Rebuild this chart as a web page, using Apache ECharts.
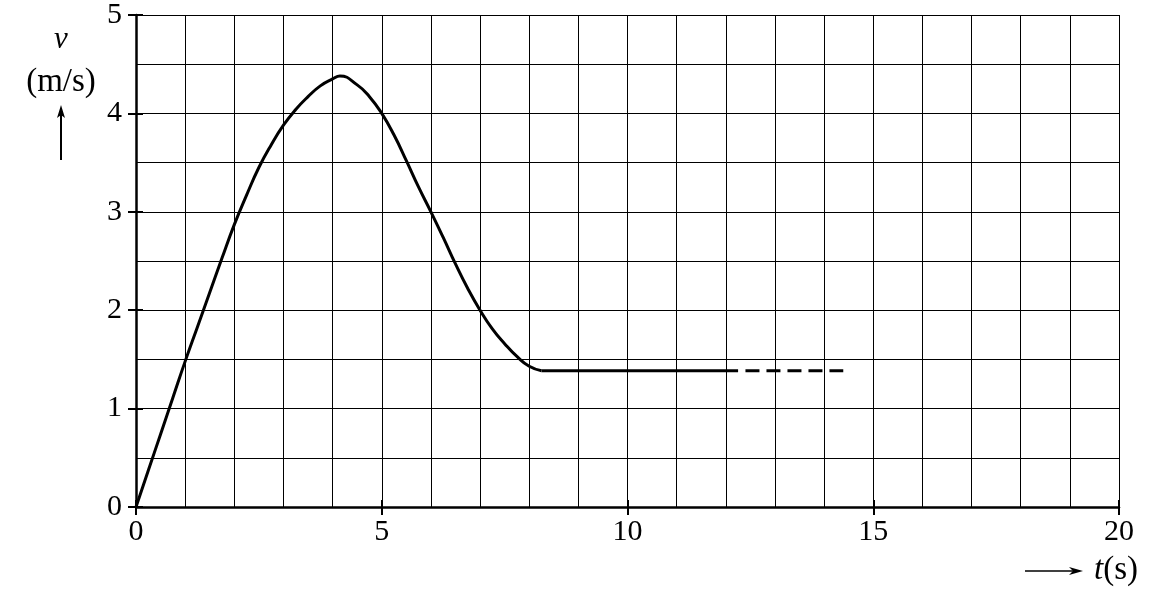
<!DOCTYPE html>
<html>
<head>
<meta charset="utf-8">
<title>v-t</title>
<script src="https://cdn.jsdelivr.net/npm/echarts@6/dist/echarts.min.js"></script>
<style>
  html, body { margin: 0; padding: 0; background: #fff; }
  #vt-chart { width: 1162px; height: 614px; }
</style>
</head>
<body>
<div id="vt-chart"></div>
<script>
// 曲线读数 (t, v), 约每 0.25 s 读一次
var curveT = [0, 0.25, 0.5, 0.75, 1.0, 1.25, 1.5, 1.75, 2.0, 2.25, 2.5, 2.75, 3.0, 3.25, 3.5, 3.75, 4.0, 4.15, 4.5, 4.75,
              5.0, 5.25, 5.5, 5.75, 6.0, 6.25, 6.5, 6.75, 7.0, 7.25, 7.5, 7.75, 8.0, 8.25];
var curveV = [0, 0.37, 0.74, 1.11, 1.48, 1.83, 2.18, 2.53, 2.87, 3.17, 3.45, 3.68, 3.88, 4.04, 4.17, 4.28, 4.35, 4.38, 4.29, 4.17,
              4.0, 3.78, 3.52, 3.25, 3.0, 2.74, 2.47, 2.22, 2.0, 1.81, 1.66, 1.53, 1.43, 1.385];
// 匀速段: 实线 + 虚线
var flatT = [8.25, 12.25];
var flatV = [1.385, 1.385];
var dashT = [12.4, 14.39];
var dashV = [1.385, 1.385];
// 刻度
var xTicks = [0, 5, 10, 15, 20];
var yTicks = [0, 1, 2, 3, 4, 5];

function pairs(xs, ys) {
  var out = [];
  for (var i = 0; i < xs.length; i++) out.push([xs[i], ys[i]]);
  return out;
}

var serif = '"Liberation Serif", "DejaVu Serif", serif';
var dom = document.getElementById('vt-chart');
var myChart = echarts.init(dom);

var gridLine = { color: '#000', width: 1 };

var option = {
  animation: false,
  backgroundColor: '#fff',
  grid: { left: 136, top: 15, right: 43, bottom: 107, containLabel: false },
  xAxis: [
    {
      type: 'value',
      min: xTicks[0],
      max: xTicks[xTicks.length - 1],
      interval: 5,
      axisLine: { onZero: false, lineStyle: { color: '#000', width: 2.5 } },
      axisTick: { show: true, inside: false, length: 8, lineStyle: { color: '#000', width: 2 } },
      axisLabel: { margin: 10, color: '#000', fontFamily: serif, fontSize: 30 },
      splitLine: { show: true, lineStyle: gridLine },
      minorTick: { show: false, splitNumber: 5 },
      minorSplitLine: { show: true, lineStyle: gridLine }
    },
    {
      // 刻度线穿过坐标轴 (内侧一半)
      type: 'value',
      position: 'bottom',
      min: xTicks[0],
      max: xTicks[xTicks.length - 1],
      interval: 5,
      axisLine: { show: false, onZero: false },
      axisTick: { show: true, inside: true, length: 7, lineStyle: { color: '#000', width: 2 } },
      axisLabel: { show: false },
      splitLine: { show: false }
    }
  ],
  yAxis: [
    {
      type: 'value',
      min: yTicks[0],
      max: yTicks[yTicks.length - 1],
      interval: 1,
      axisLine: { show: true, onZero: false, lineStyle: { color: '#000', width: 2.5 } },
      axisTick: { show: true, inside: false, length: 8, lineStyle: { color: '#000', width: 2 } },
      axisLabel: { margin: 14, color: '#000', fontFamily: serif, fontSize: 30 },
      splitLine: { show: true, lineStyle: gridLine },
      minorTick: { show: false, splitNumber: 2 },
      minorSplitLine: { show: true, lineStyle: gridLine }
    },
    {
      type: 'value',
      position: 'left',
      min: yTicks[0],
      max: yTicks[yTicks.length - 1],
      interval: 1,
      axisLine: { show: false, onZero: false },
      axisTick: { show: true, inside: true, length: 7, lineStyle: { color: '#000', width: 2 } },
      axisLabel: { show: false },
      splitLine: { show: false }
    }
  ],
  series: [
    {
      name: 'curve',
      type: 'line',
      xAxisIndex: 0,
      yAxisIndex: 0,
      smooth: 0.5,
      showSymbol: false,
      symbol: 'none',
      lineStyle: { color: '#000', width: 3 },
      data: pairs(curveT, curveV)
    },
    {
      name: 'flat',
      type: 'line',
      showSymbol: false,
      symbol: 'none',
      lineStyle: { color: '#000', width: 3 },
      data: pairs(flatT, flatV)
    },
    {
      name: 'dash',
      type: 'line',
      showSymbol: false,
      symbol: 'none',
      lineStyle: { color: '#000', width: 3, type: [14, 7], cap: 'butt' },
      data: pairs(dashT, dashV)
    }
  ],
  graphic: [
    // 纵轴名称
    {
      type: 'text', x: 61, y: 40,
      style: { text: 'v', fontFamily: serif, fontStyle: 'italic', fontSize: 31, fill: '#000', align: 'center', verticalAlign: 'middle' }
    },
    {
      type: 'text', x: 61, y: 82,
      style: { text: '(m/s)', fontFamily: serif, fontSize: 33, fill: '#000', align: 'center', verticalAlign: 'middle' }
    },
    {
      type: 'line',
      shape: { x1: 61, y1: 160, x2: 61, y2: 114 },
      style: { stroke: '#000', lineWidth: 2 }
    },
    {
      type: 'polygon',
      shape: { points: [[61, 105], [57, 118], [61, 115], [65, 118]] },
      style: { fill: '#000' }
    },
    // 横轴名称
    {
      type: 'line',
      shape: { x1: 1025, y1: 571, x2: 1074, y2: 571 },
      style: { stroke: '#000', lineWidth: 1.5 }
    },
    {
      type: 'polygon',
      shape: { points: [[1083, 571], [1069, 567], [1073, 571], [1069, 575]] },
      style: { fill: '#000' }
    },
    {
      type: 'text', x: 1138, y: 570,
      style: {
        text: '{i|t}(s)',
        fontFamily: serif, fontSize: 33, fill: '#000', align: 'right', verticalAlign: 'middle',
        rich: { i: { fontFamily: serif, fontStyle: 'italic', fontSize: 33, fill: '#000' } }
      }
    }
  ]
};
myChart.setOption(option, true);
</script>
</body>
</html>
